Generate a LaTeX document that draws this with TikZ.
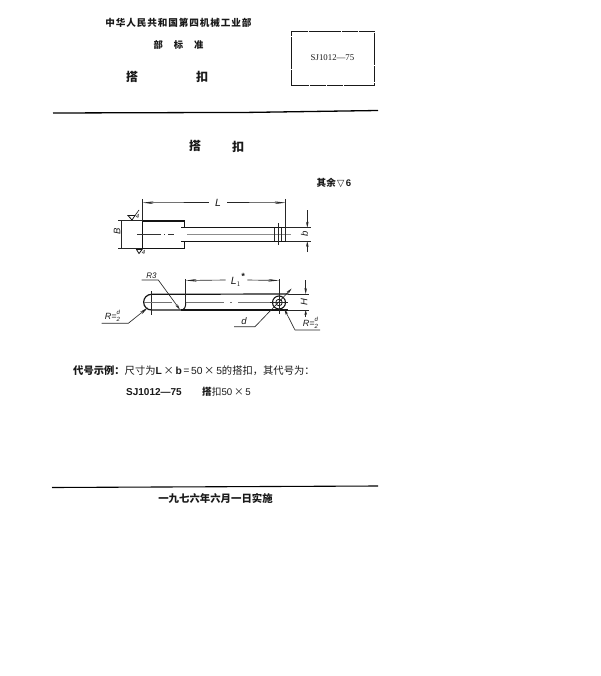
\documentclass[tikz,border=0pt]{standalone}
\usepackage{fontspec}
\setmainfont{Liberation Serif}
\newfontfamily\cjk{Noto Sans CJK SC}
\newfontfamily\lat{Liberation Sans}
\usetikzlibrary{arrows.meta}
\tikzset{
 x=1pt,y=-1pt,
 ink/.style={draw=black!92,line width=1pt},
 thin ink/.style={draw=black!85,line width=0.65pt},
 centre/.style={draw=black!80,line width=0.6pt,dash pattern=on 14pt off 3pt on 1pt off 3pt},
 band/.style={draw=black!45,line width=1.2pt},
 dimen/.style={thin ink,-{Stealth[length=11pt,width=2.6pt]}},
 shortdim/.style={thin ink,-{Stealth[length=6pt,width=2.6pt]}},
 label/.style={inner sep=0pt,text=black!90},
 dim label/.style={label,font=\fontsize{9.5}{9.5}\selectfont\itshape\lat},
}
\begin{document}
\begin{tikzpicture}
\useasboundingbox (0,0) rectangle (600,676);
% header
\node[label,font=\cjk\bfseries\fontsize{9.6}{10}\selectfont] (org) at (178.5,23) {中\hspace{0.9pt}华\hspace{0.9pt}人\hspace{0.9pt}民\hspace{0.9pt}共\hspace{0.9pt}和\hspace{0.9pt}国\hspace{0.9pt}第\hspace{0.9pt}四\hspace{0.9pt}机\hspace{0.9pt}械\hspace{0.9pt}工\hspace{0.9pt}业\hspace{0.9pt}部};
\node[label,font=\cjk\bfseries\fontsize{9.3}{10}\selectfont] (std) at (178.5,44.5) {部\hspace{11pt}标\hspace{11pt}准};
\node[label,font=\cjk\bfseries\fontsize{12}{12}\selectfont] (n1) at (132,76.5) {搭};
\node[label,font=\cjk\bfseries\fontsize{12}{12}\selectfont] (n2) at (202,76.5) {扣};
\draw[black!90,line width=0.9pt,dash pattern=on 16pt off 0.8pt] (291.7,31) -- (374,31) -- (374,85.5) -- (291.7,85.5) -- cycle;
\node[label,font=\fontsize{8.8}{9}\selectfont] (code) at (332.5,57.5) {SJ1012—75};
\draw[black,line width=1.3pt] (53,113) -- (250,112.4) -- (378,110.5);
\node[label,font=\cjk\bfseries\fontsize{12}{12}\selectfont] (t1) at (195,146) {搭};
\node[label,font=\cjk\bfseries\fontsize{12}{12}\selectfont] (t2) at (238,146.5) {扣};
\node[label,font=\cjk\bfseries\fontsize{9.6}{10}\selectfont] (rest) at (334,183) {其余\hspace{1.2pt}{\fontspec{DejaVu Sans}\fontsize{9.5}{9.5}\selectfont ▽}\hspace{1.5pt}{\lat 6}};
% top view
\draw[ink,line width=1.1pt] (142.5,248.5) -- (142.5,221) -- (184.3,221) -- (184.3,227.7);
\draw[ink,line width=1.1pt] (142.5,248.5) -- (184.3,248.5) -- (184.3,241);
\draw[ink] (181,227.7) -- (285.7,227.7) (181,241) -- (285.7,241);
\draw[band] (187,234.3) -- (291,234.3);
\draw[centre,dash pattern=on 24pt off 3pt on 1pt off 3pt on 6pt off 30pt] (137,234) -- (180,234);
\draw[thin ink] (274,227.7) -- (274,241) (278.3,223) -- (278.3,245) (281.7,227.7) -- (281.7,241);
% dimension L
\draw[thin ink] (142.5,199) -- (142.5,221) (285.7,199) -- (285.7,241);
\coordinate (La) at (142.5,202.7); \coordinate (Lb) at (285.7,202.7);
\node[dim label,font=\fontsize{10.5}{10.5}\selectfont\itshape\lat] (L) at (218,202.5) {L};
\draw[dimen] ([xshift=-6pt]L.west) -- (La);
\draw[dimen] ([xshift=6pt]L.east) -- (Lb);
% dimension B
\draw[thin ink] (118,220.7) -- (142,220.7) (118,248.5) -- (142,248.5);
\draw[thin ink] (121,221) -- (121,248.5);
\node[dim label,rotate=90] (B) at (117,231) {B};
% dimension b
\draw[thin ink] (285.7,227.7) -- (311,227.7) (285.7,241) -- (311,241);
\coordinate (ba) at (307.3,227.7); \coordinate (bb) at (307.3,241);
\coordinate (bc) at (307.3,210); \coordinate (bd) at (307.3,252);
\draw[shortdim] (bc) -- (ba);
\draw[shortdim] (bd) -- (bb);
\node[dim label,rotate=90] (b) at (304.5,233.5) {b};
% roughness marks
\node[label,font=\fontsize{6}{6}\selectfont\itshape\lat] (r1) at (137.5,216.5) {4};
\draw[ink,line width=0.8pt] (128,215.5) -- (135,215.5) -- (132,220) -- cycle;
\draw[thin ink] (135,215.5) -- (139,210);
\node[label,font=\fontsize{6}{6}\selectfont\itshape\lat] (r2) at (143.5,252) {4};
\draw[ink,line width=0.8pt] (136.5,249.5) -- (142,249.5) -- (139,253.5) -- cycle;
% front view
\draw[ink,line width=1.2pt] (151.5,294.3) -- (288,294);
\draw[ink,line width=1.2pt] (181,310) -- (288,310);
\draw[ink,line width=1.2pt] (151.5,294.3) arc[start angle=270,end angle=90,radius=7.85] -- (181,310);
\draw[ink] (181,310) .. controls (184.5,310) and (185.7,307) .. (185.7,303);
\draw[thin ink] (151.7,291) -- (151.7,314.7);
\draw[band,draw=black!55] (144,302.3) -- (172,302.3);
\draw[band,draw=black!55,dash pattern=on 38pt off 6pt on 2pt off 6pt on 40pt off 0pt] (186,302.3) -- (270,302.3);
\node[circle,draw=black!92,line width=1.1pt,minimum size=13pt,inner sep=0pt] (hole) at (279,302.5) {};
\node[circle,draw=black!92,line width=0.8pt,minimum size=6.5pt,inner sep=0pt] (hole2) at (279,302.5) {};
\draw[thin ink] (270,302.5) -- (288,302.5) (279,279) -- (279,314);
% dimension L1
\draw[thin ink] (185.7,279) -- (185.7,303);
\coordinate (Lla) at (185.7,280.5); \coordinate (Llb) at (279,280.5);
\node[dim label,font=\fontsize{10.5}{10.5}\selectfont\itshape\lat] (L1) at (236,280) {L$_{\scriptstyle 1}$\rlap{\raisebox{5pt}{\lat\bfseries\fontsize{9}{9}\selectfont *}}};
\draw[dimen] ([xshift=-5pt]L1.west) -- (Lla);
\draw[dimen] ([xshift=6pt]L1.east) -- (Llb);
% dimension H
\draw[thin ink] (288,294) -- (308.5,294) (288,310) -- (308.5,310);
\coordinate (Ha) at (305.7,294); \coordinate (Hb) at (305.7,310);
\coordinate (Hc) at (305.7,280); \coordinate (Hd) at (305.7,317);
\draw[shortdim] (Hc) -- (Ha);
\draw[thin ink,-{Stealth[length=5pt,width=2.6pt]}] (Hd) -- (Hb);
\node[dim label,rotate=90] (H) at (304,301.7) {H};
% leaders
\node[dim label,font=\fontsize{8}{8}\selectfont\itshape\lat] (R3) at (151.5,275.5) {R3};
\coordinate (R3a) at (141.7,280); \coordinate (R3b) at (158.3,280); \coordinate (R3c) at (180,309.7);
\draw[shortdim] (R3a) -- (R3b) -- (R3c);
\newcommand{\dhalf}{\lat\itshape\fontsize{9}{9}\selectfont R=\raisebox{-2pt}{\shortstack[c]{\fontsize{6}{6}\selectfont d\\[0pt]\fontsize{6}{6}\selectfont 2}}}
\node[label] (Rl) at (112.5,316) {\dhalf};
\coordinate (Rla) at (101.7,323.3); \coordinate (Rlb) at (128.3,323.3); \coordinate (Rlc) at (148,307.5);
\draw[thin ink,-{Stealth[length=9pt,width=3pt]}] (Rla) -- (Rlb) -- (Rlc);
\node[dim label] (d) at (244,321.5) {d};
\coordinate (da) at (234,326.7); \coordinate (db) at (255,326.7); \coordinate (dc) at (291.7,288.5);
\draw[shortdim] (da) -- (db) -- (dc);
\node[label] (Rr) at (310.5,322.5) {\dhalf};
\coordinate (Rra) at (320,330); \coordinate (Rrb) at (295,330); \coordinate (Rrc) at (284.3,309);
\draw[shortdim] (Rra) -- (Rrb) -- (Rrc);
% example text
\node[label,anchor=west,font=\cjk\fontsize{10.3}{10.3}\selectfont] (ex) at (73,371) {{\bfseries 代号示例：}尺寸为{\lat\bfseries L}\,×\,{\lat\bfseries b}\,=\,{\lat 50}\,×\,{\lat 5}的搭扣，其代号为：};
\node[label,anchor=west,font=\lat\bfseries\fontsize{10}{10}\selectfont] (ex1) at (126,392) {SJ1012—75};
\node[label,anchor=west,font=\cjk\fontsize{9.7}{10}\selectfont] (ex2) at (202,392) {{\bfseries 搭}扣{\lat 50}\,×\,{\lat 5}};
% bottom
\draw[black,line width=1.1pt] (52,487.5) -- (378,486);
\node[label,font=\cjk\bfseries\fontsize{10.4}{10.4}\selectfont] (date) at (215.5,498) {一九七六年六月一日实施};
\end{tikzpicture}
\end{document}
